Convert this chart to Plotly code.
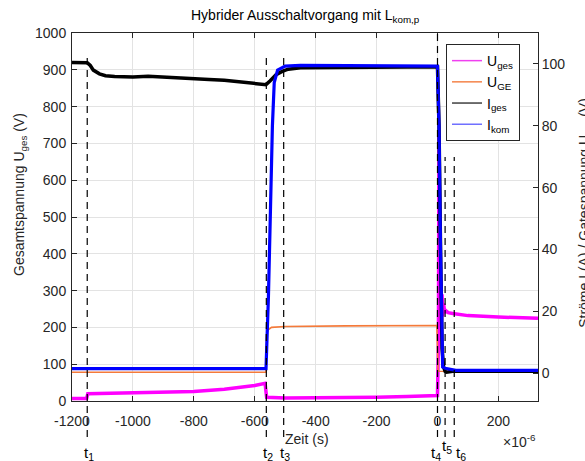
import plotly.graph_objects as go

# Time base in microseconds (axis shown with a x10^-6 multiplier)
t_uges = [-1200, -1152, -1148, -1100, -1000, -900, -800, -700, -600, -566, -561,
          -500, -400, -300, -200, -100, -10, 0, 3, 5, 7, 9, 11, 13, 15, 17, 20,
          24, 28, 35, 50, 100, 200, 330]
u_ges = [7, 7, 20, 21, 22, 23, 26, 32, 42, 48, 10,
         8, 8, 9, 10, 12, 15, 15, 150, 720, 400, 260, 330, 220, 290, 230, 265,
         240, 245, 240, 238, 232, 228, 225]

t_uge = [-1200, -563, -561, -556, -545, -520, -500, -300, -2, 0, 2, 5, 330]
u_ge = [0.3, 0.3, 12.5, 14.0, 14.8, 15.0, 15.1, 15.3, 15.4, 8.0, 1.0, 0.6, 0.4]

t_iges = [-1200, -1160, -1150, -1140, -1130, -1110, -1090, -1060, -1000, -950,
          -900, -850, -800, -750, -700, -650, -600, -570, -563, -550, -530,
          -510, -490, -450, -300, -100, 0, 5, 10, 15, 20, 25, 30, 50, 100, 200, 330]
i_ges = [100.5, 100.6, 100.4, 99.5, 98.0, 96.8, 96.2, 95.9, 95.8, 96.0,
         95.8, 95.4, 95.3, 95.0, 94.7, 94.1, 93.6, 93.2, 93.3, 94.5, 96.5,
         97.6, 98.3, 98.8, 99.0, 99.0, 99.0, 80, 40, 8, 2, 0.6, 0.3, 0.6, 0.6, 0.5, 0.6]

t_ikom = [-1200, -563, -555, -548, -542, -536, -525, -500, -450, 0, 5, 10, 14,
          17, 25, 40, 60, 330]
i_kom = [1.5, 1.5, 25, 55, 80, 94, 98, 99.3, 99.5, 99.3, 80, 40, 8,
         2, 1.6, 1.2, 0.9, 0.9]

# Switching instants t1..t6
t_marks = [-1150, -562, -505, 0, 25, 55]
t_names = ["t<sub>1</sub>", "t<sub>2</sub>", "t<sub>3</sub>",
           "t<sub>4</sub>", "t<sub>5</sub>", "t<sub>6</sub>"]

x_ticks = [-1200, -1000, -800, -600, -400, -200, 0, 200]
x_tick_text = ["-1200", "-1000", "-800", "-600", "-400", "-200", "0", "200"]
y_ticks = list(range(0, 1001, 100))
y2_ticks = [0, 20, 40, 60, 80, 100]

FONT = "Liberation Sans, Arial, sans-serif"
TXT = "#262626"

names = ["U<sub>ges</sub>", "U<sub>GE</sub>", "I<sub>ges</sub>", "I<sub>kom</sub>"]
colors = ["#ff00ff", "#f47a3a", "#000000", "#0000ff"]
legend_colors = ["#f040f0", "#f5844a", "#404040", "#7070ff"]

fig = go.Figure()
fig.add_trace(go.Scatter(x=t_uges, y=u_ges, mode="lines", yaxis="y",
                         line=dict(color=colors[0], width=3.5), showlegend=False))
fig.add_trace(go.Scatter(x=t_uge, y=u_ge, mode="lines", yaxis="y2",
                         line=dict(color=colors[1], width=1.6), showlegend=False))
fig.add_trace(go.Scatter(x=t_iges, y=i_ges, mode="lines", yaxis="y2",
                         line=dict(color=colors[2], width=3.5), showlegend=False))
fig.add_trace(go.Scatter(x=t_ikom, y=i_kom, mode="lines", yaxis="y2",
                         line=dict(color=colors[3], width=3.2), showlegend=False))

# legend entries with thin sample lines
for nm, c in zip(names, legend_colors):
    fig.add_trace(go.Scatter(x=[None], y=[None], mode="lines", name=nm,
                             line=dict(color=c, width=1.5), showlegend=True))

shapes = []
tops = [0.94, 0.94, 0.94, 1.0, 0.663, 0.663]
for tm, top in zip(t_marks, tops):
    shapes.append(dict(type="line", xref="x", yref="paper", x0=tm, x1=tm,
                       y0=-0.098, y1=top,
                       line=dict(color="black", width=1.2, dash="7px,5px")))

annotations = []
label_shift = [2, 2, 1, -1, 2, 7]
label_y = [-0.142, -0.142, -0.142, -0.142, -0.124, -0.142]
for tm, nm, dx, ly in zip(t_marks, t_names, label_shift, label_y):
    annotations.append(dict(x=tm, y=ly, xref="x", yref="paper", text=nm,
                            showarrow=False, xshift=dx, xanchor="center",
                            yanchor="middle", font=dict(size=15, color="black", family=FONT)))

annotations += [
    dict(x=0.5, y=1.046, xref="paper", yref="paper", showarrow=False,
         text="Hybrider Ausschaltvorgang mit L<sub>kom,p</sub>",
         xanchor="center", yanchor="middle", font=dict(size=14, color="black", family=FONT)),
    dict(x=0.504, y=-0.102, xref="paper", yref="paper", showarrow=False,
         text="Zeit (s)", xanchor="center", yanchor="middle",
         font=dict(size=14, color=TXT, family=FONT)),
    dict(x=1.0, y=-0.11, xref="paper", yref="paper", showarrow=False,
         text="\u00d710<sup>-6</sup>", xanchor="right", yanchor="middle",
         font=dict(size=14, color=TXT, family=FONT)),
    dict(x=-0.135, y=0.56, xref="paper", yref="paper", showarrow=False,
         text="Gesamtspannung U<sub>ges</sub> (V)", textangle=-90,
         xanchor="left", yanchor="middle", font=dict(size=14, color=TXT, family=FONT)),
    dict(x=1.077, y=0.511, xref="paper", yref="paper", showarrow=False,
         text="Str\u00f6me I (A) / Gatespannung U<sub>GE</sub> (V)", textangle=-90,
         xanchor="left", yanchor="middle", font=dict(size=14, color=TXT, family=FONT)),
]

axis_common = dict(showline=True, linecolor=TXT, linewidth=1, ticks="inside",
                   ticklen=5, tickcolor=TXT, zeroline=False,
                   tickfont=dict(size=14, color=TXT, family=FONT))

fig.update_layout(
    width=585, height=461, autosize=False,
    margin=dict(l=72, r=47, t=33, b=60),
    paper_bgcolor="white", plot_bgcolor="white",
    font=dict(family=FONT, color=TXT),
    xaxis=dict(range=[-1200, 330], tickvals=x_ticks, ticktext=x_tick_text,
               ticklabelstandoff=7, showgrid=True,
               gridcolor="#e3e3e3", gridwidth=1, mirror="ticks", **axis_common),
    yaxis=dict(range=[0, 1000], tickvals=y_ticks, showgrid=True,
               ticklabelstandoff=2,
               gridcolor="#e3e3e3", gridwidth=1, **axis_common),
    yaxis2=dict(range=[-9, 110], tickvals=y2_ticks, overlaying="y", side="right",
                showgrid=False, **axis_common),
    legend=dict(x=0.8026, y=0.97, xanchor="left", yanchor="top",
                bgcolor="white", bordercolor=TXT, borderwidth=1,
                font=dict(size=14, color="black", family=FONT),
                tracegroupgap=0),
    shapes=shapes,
    annotations=annotations,
)

fig.write_html("out.html")
